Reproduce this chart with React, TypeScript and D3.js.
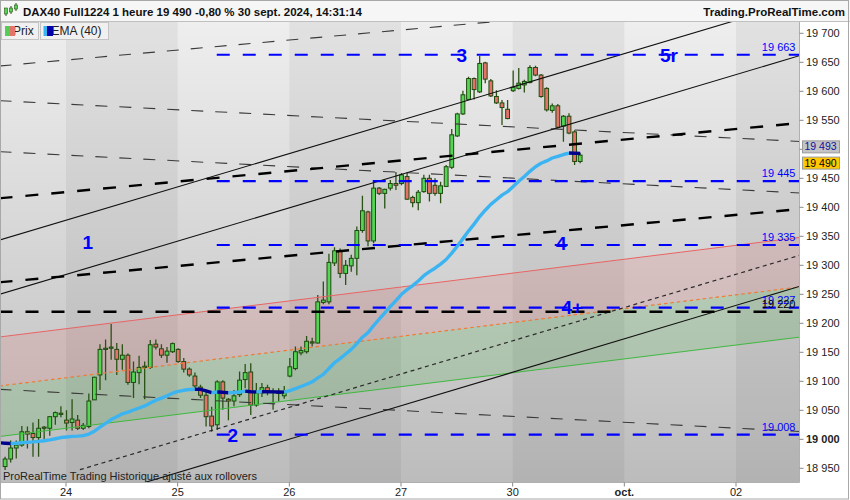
import { useEffect, useRef } from 'react';
import * as d3 from 'd3';

const W = 850;
const H = 500;
const FONT = '"Liberation Sans", Arial, sans-serif';

// ── Sessions on the time axis (20 hourly bars each) ─────────────────────────
const sessions = ['23', '24', '25', '26', '27', '30', 'oct.', '02'];
const BARS_PER_SESSION = 20;
const FIRST_BAR = 9; // 23 sept, bar #9

// ── Hourly candles, 23 sept → 30 sept 14:00 ────────────────────────────────
const opens = [
  18953, 18966, 18985, 18990, 19013, 19010, 19003, 19019, 19019, 19039, 19044,
  19033, 19029, 19033, 19019, 19022, 19068, 19111, 19155, 19157, 19155, 19138, 19145, 19098, 19115, 19124, 19124, 19164, 19156, 19145, 19151,
  19155, 19134, 19121, 19109, 19090, 19076, 19040, 19025, 19099, 19069, 19066, 19077, 19103, 19116, 19059, 19080, 19089, 19083, 19080, 19075,
  19109, 19122, 19149, 19151, 19168, 19166, 19236, 19237, 19304, 19325, 19286, 19299, 19312, 19360, 19392, 19342, 19433, 19424, 19433, 19441,
  19441, 19453, 19417, 19408, 19427, 19450, 19438, 19424, 19436, 19469, 19523, 19561, 19586, 19622, 19599, 19649, 19618, 19591, 19580, 19569,
  19601, 19605, 19611, 19615, 19641, 19628, 19605, 19567, 19575, 19540, 19557, 19530, 19479,
];
const highs = [
  18970, 18998, 18998, 19023, 19022, 19029, 19035, 19023, 19040, 19048, 19057,
  19050, 19069, 19042, 19028, 19079, 19108, 19164, 19172, 19199, 19166, 19164, 19148, 19134, 19144, 19134, 19171, 19172, 19164, 19159, 19167,
  19157, 19140, 19124, 19115, 19094, 19085, 19056, 19102, 19102, 19071, 19085, 19117, 19130, 19131, 19097, 19097, 19094, 19088, 19088, 19092,
  19140, 19160, 19160, 19178, 19175, 19249, 19272, 19320, 19331, 19329, 19309, 19318, 19367, 19420, 19394, 19444, 19435, 19432, 19447, 19461,
  19459, 19460, 19420, 19430, 19456, 19456, 19450, 19444, 19473, 19535, 19563, 19601, 19625, 19624, 19661, 19651, 19621, 19602, 19585, 19585,
  19636, 19640, 19620, 19645, 19644, 19630, 19607, 19579, 19578, 19559, 19562, 19533, 19494,
];
const lows = [
  18947, 18960, 18967, 18987, 18984, 18970, 18970, 19000, 19006, 19025, 19038,
  19015, 19015, 19016, 19016, 19019, 19068, 19085, 19102, 19137, 19111, 19120, 19094, 19071, 19095, 19069, 19121, 19155, 19140, 19132, 19149,
  19132, 19115, 19108, 19086, 19071, 19022, 19013, 19016, 19051, 19033, 19057, 19073, 19088, 19042, 19056, 19073, 19076, 19051, 19065, 19070,
  19107, 19119, 19145, 19148, 19160, 19165, 19233, 19233, 19299, 19278, 19266, 19289, 19283, 19356, 19333, 19338, 19421, 19398, 19429, 19430,
  19438, 19413, 19400, 19395, 19425, 19410, 19420, 19407, 19435, 19466, 19521, 19559, 19585, 19586, 19597, 19614, 19590, 19578, 19542, 19552,
  19599, 19603, 19598, 19614, 19626, 19589, 19565, 19563, 19536, 19513, 19526, 19473, 19476,
];
const closes = [
  18966, 18985, 18990, 19013, 19009, 19003, 19019, 19021, 19039, 19046, 19045,
  19028, 19035, 19019, 19024, 19066, 19107, 19155, 19157, 19159, 19138, 19145, 19098, 19116, 19124, 19126, 19163, 19159, 19145, 19152, 19165,
  19134, 19121, 19111, 19092, 19076, 19039, 19023, 19099, 19071, 19066, 19075, 19102, 19115, 19059, 19080, 19089, 19083, 19082, 19081, 19082,
  19125, 19151, 19153, 19169, 19167, 19237, 19240, 19305, 19325, 19286, 19300, 19312, 19360, 19394, 19342, 19433, 19424, 19431, 19441, 19438,
  19456, 19414, 19408, 19426, 19450, 19424, 19424, 19437, 19470, 19525, 19561, 19594, 19622, 19603, 19648, 19621, 19592, 19580, 19572, 19553,
  19607, 19614, 19617, 19641, 19628, 19591, 19568, 19575, 19538, 19557, 19528, 19479, 19490,
];

// ── EMA (40) as plotted, one value per bar from bar #8 ─────────────────────
const EMA_FIRST_BAR = 8;
const ema40 = [
  18994, 18993.3, 18992.8, 18993.2, 18994.2, 18995, 18995.5, 18996.5, 18997.5, 18999, 19001, 19003,
  19004, 19005, 19005.5, 19006.3, 19009, 19014, 19021, 19027.5, 19034, 19039, 19044, 19047, 19050.5, 19054, 19057.5, 19062.5, 19067.5, 19071, 19075, 19079.5,
  19082.5, 19084.5, 19085.8, 19086.3, 19086, 19083.5, 19080.5, 19081.5, 19081, 19080.2, 19080.6, 19081.5, 19083, 19082, 19081.7, 19082.2, 19082, 19081.8, 19081.5, 19081.3,
  19084, 19087.5, 19091, 19095, 19099, 19106, 19112, 19122, 19132, 19139, 19147, 19155, 19165, 19176, 19184, 19196, 19207, 19218, 19229, 19239,
  19250, 19258, 19265, 19273, 19282, 19289, 19295, 19302, 19310, 19321, 19333, 19346, 19359, 19371, 19384, 19395, 19405, 19413, 19421, 19427,
  19436, 19445, 19453, 19462, 19470, 19476, 19480, 19485, 19488, 19491, 19493.5, 19493.2, 19493,
];
const EMA_LAST = 19493;
const LAST_PRICE = 19490;

// ── Price axis ─────────────────────────────────────────────────────────────
const priceTicks = [18950, 19000, 19050, 19100, 19150, 19200, 19250, 19300, 19350, 19400, 19450, 19500, 19550, 19600, 19650, 19700];

// ── Drawn objects: [bar0, price0, bar1, price1] ─────────────────────────────
const solidLines = [
  [8, 19343.6, 151.5, 19755.7],
  [8, 19250, 151.5, 19662.1],
  [26, 18902.4, 151.5, 19264.3],
];
const thickDashed = [
  [8, 19415.5, 151.5, 19545.5],
  [8, 19270.7, 151.5, 19397.1],
  [8, 19220, 151.5, 19220],
];
const thinDashed = [
  [8, 19643.6, 151.5, 19767.4],
  [8, 19583.8, 151.5, 19513.4],
  [8, 19495.9, 151.5, 19424.7],
  [8, 19086.2, 151.5, 19013.3],
];
const dottedLines = [[22.4, 18947.6, 151.5, 19317.8]];
const regUpper = [8, 19176.4, 151.5, 19348.3];
const regMid = [8, 19091.9, 151.5, 19262.9];
const regLower = [8, 19004.8, 151.5, 19176.4];

// horizontal support / resistance levels
const levels = [19663, 19445, 19335, 19227, 19008];
const LEVEL_START_BAR = 47;
const blackLevel = 19220;

// wave annotations
const annoText = ['1', '2', '3', '4', '4+', '5r'];
const annoBar = [23.8, 49.8, 90.8, 108.6, 110.6, 127.9];
const annoPrice = [19340, 19007, 19663, 19339, 19228, 19663];

const fmtPrice = (v: number) => `${Math.floor(v / 1000)} ${String(Math.round(v) % 1000).padStart(3, '0')}`;

export default function App() {
  const svgRef = useRef<SVGSVGElement>(null);

  useEffect(() => {
    if (!svgRef.current) return;
    const svg = d3.select(svgRef.current);
    svg.selectAll('*').remove();

    const P = { left: 1, right: 799.5, top: 22, bottom: 482.5 };

    const x = d3.scaleLinear().domain([20, 140]).range([66.5, 736.5]);
    const y = d3.scaleLinear().domain([18950, 19700]).range([468.3, 33.3]);

    // ── defs ────────────────────────────────────────────────────────────────
    const defs = svg.append('defs');
    const bg = defs.append('linearGradient').attr('id', 'bg')
      .attr('x1', '0').attr('x2', '0').attr('y1', '0').attr('y2', '1');
    bg.append('stop').attr('offset', '0%').attr('stop-color', '#eeeeee');
    bg.append('stop').attr('offset', '100%').attr('stop-color', '#bcbcbc');
    defs.append('clipPath').attr('id', 'plot')
      .append('rect').attr('x', P.left).attr('y', P.top)
      .attr('width', P.right - P.left).attr('height', P.bottom - P.top);

    // page background
    svg.append('rect').attr('width', W).attr('height', H).attr('fill', '#ffffff');
    svg.append('rect').attr('width', W).attr('height', P.top).attr('fill', '#f6f6f6');

    const plot = svg.append('g').attr('clip-path', 'url(#plot)');
    plot.append('rect').attr('x', P.left).attr('y', P.top)
      .attr('width', P.right - P.left).attr('height', P.bottom - P.top).attr('fill', 'url(#bg)');

    // ── day bands ───────────────────────────────────────────────────────────
    sessions.forEach((_, i) => {
      if (i % 2 === 0) return;
      const x0 = x(i * BARS_PER_SESSION) - 0.5;
      const x1 = x((i + 1) * BARS_PER_SESSION) - 0.5;
      plot.append('rect').attr('x', x0).attr('y', P.top).attr('width', x1 - x0)
        .attr('height', P.bottom - P.top).attr('fill', '#000').attr('opacity', 0.05);
    });

    // ── regression channel fills ────────────────────────────────────────────
    const band = (a: number[], b: number[]) =>
      `M${x(a[0])},${y(a[1])}L${x(a[2])},${y(a[3])}L${x(b[2])},${y(b[3])}L${x(b[0])},${y(b[1])}Z`;
    plot.append('path').attr('d', band(regUpper, regMid)).attr('fill', 'rgb(235,80,80)').attr('opacity', 0.15);
    plot.append('path').attr('d', band(regMid, regLower)).attr('fill', 'rgb(40,170,40)').attr('opacity', 0.17);

    // ── candles ─────────────────────────────────────────────────────────────
    const candles = opens.map((o, i) => ({ bar: FIRST_BAR + i, o, h: highs[i], l: lows[i], c: closes[i] }));
    const cg = plot.append('g');
    cg.selectAll('line').data(candles).join('line')
      .attr('x1', d => x(d.bar)).attr('x2', d => x(d.bar))
      .attr('y1', d => y(d.h)).attr('y2', d => y(d.l))
      .attr('stroke', '#2a5214').attr('stroke-width', 1.3);
    cg.selectAll('rect').data(candles).join('rect')
      .attr('x', d => x(d.bar) - 1.9).attr('width', 3.8)
      .attr('y', d => y(Math.max(d.o, d.c)))
      .attr('height', d => Math.max(1.2, Math.abs(y(d.o) - y(d.c))))
      .attr('fill', d => (d.c >= d.o ? '#55d455' : '#e6736a'))
      .attr('stroke', '#1f4a10').attr('stroke-width', 1);

    // ── drawn lines ─────────────────────────────────────────────────────────
    const seg = (l: number[], stroke: string, w: number, dash?: string) =>
      plot.append('line')
        .attr('x1', x(l[0])).attr('y1', y(l[1])).attr('x2', x(l[2])).attr('y2', y(l[3]))
        .attr('stroke', stroke).attr('stroke-width', w)
        .attr('stroke-dasharray', dash ?? null);

    seg(regUpper, '#e86464', 1);
    seg(regMid, '#f07a36', 1.2, '3.5 3');
    seg(regLower, '#3fb83f', 1);
    thinDashed.forEach(l => seg(l, '#3a3a3a', 1.1, '12 12'));
    dottedLines.forEach(l => seg(l, '#2a2a2a', 1.2, '4 3.5'));
    solidLines.forEach(l => seg(l, '#111111', 1.1));
    thickDashed.forEach(l => seg(l, '#000000', 2.4, '13 13'));

    // ── blue levels ─────────────────────────────────────────────────────────
    levels.forEach(v => {
      plot.append('line')
        .attr('x1', x(LEVEL_START_BAR) - 0.5).attr('x2', P.right)
        .attr('y1', y(v)).attr('y2', y(v))
        .attr('stroke', '#0000ff').attr('stroke-width', 2.2).attr('stroke-dasharray', '13 13');
    });

    // ── EMA 40, coloured by direction ────────────────────────────────────────
    const emaPts = ema40.map((v, i) => ({ bar: EMA_FIRST_BAR + i, v }));
    const line = d3.line<{ bar: number; v: number }>().x(d => x(d.bar)).y(d => y(d.v));
    let run: typeof emaPts = [emaPts[0]];
    let runUp = emaPts[1].v >= emaPts[0].v;
    const flush = () => {
      plot.append('path').datum(run).attr('d', line).attr('fill', 'none')
        .attr('stroke', runUp ? '#3db4f2' : '#00008f').attr('stroke-width', 3.4)
        .attr('stroke-linejoin', 'round');
    };
    for (let i = 1; i < emaPts.length; i++) {
      const up = emaPts[i].v >= emaPts[i - 1].v;
      if (up !== runUp) {
        flush();
        run = [emaPts[i - 1]];
        runUp = up;
      }
      run.push(emaPts[i]);
    }
    flush();

    // ── annotations ─────────────────────────────────────────────────────────
    annoText.forEach((t, i) => {
      plot.append('text').attr('x', x(annoBar[i])).attr('y', y(annoPrice[i])).attr('dy', '0.36em')
        .attr('text-anchor', 'middle').attr('fill', '#0000ff')
        .attr('font-family', FONT).attr('font-size', 19).attr('font-weight', 'bold').text(t);
    });
    levels.forEach(v => {
      plot.append('text').attr('x', 795.5).attr('y', y(v) - 4).attr('text-anchor', 'end')
        .attr('fill', '#0000ff').attr('font-family', FONT).attr('font-size', 11).text(fmtPrice(v));
    });
    plot.append('text').attr('x', 795.5).attr('y', y(blackLevel) - 4).attr('text-anchor', 'end')
      .attr('fill', '#000').attr('font-family', FONT).attr('font-size', 11).text(fmtPrice(blackLevel));

    plot.append('text').attr('x', 3).attr('y', 480).attr('fill', '#222')
      .attr('font-family', FONT).attr('font-size', 11)
      .text('ProRealTime Trading  Historique ajusté aux rollovers');

    // ── frames ──────────────────────────────────────────────────────────────
    svg.append('line').attr('x1', P.right).attr('x2', P.right).attr('y1', P.top).attr('y2', P.bottom)
      .attr('stroke', '#b0b0b0');
    svg.append('line').attr('x1', 0).attr('x2', P.right).attr('y1', P.bottom).attr('y2', P.bottom)
      .attr('stroke', '#b0b0b0');
    svg.append('line').attr('x1', 0).attr('x2', W).attr('y1', 21.5).attr('y2', 21.5)
      .attr('stroke', '#c0c0c0');
    svg.append('rect').attr('x', 0.5).attr('y', 0.5).attr('width', W - 2).attr('height', H - 1.5)
      .attr('fill', 'none').attr('stroke', '#a8a8a8');

    // ── price axis ──────────────────────────────────────────────────────────
    const emaCy = y(EMA_LAST) - 6.5;
    const lastCy = y(LAST_PRICE) + 8;
    const ax = svg.append('g');
    priceTicks.forEach(v => {
      ax.append('line').attr('x1', P.right).attr('x2', P.right + 4).attr('y1', y(v)).attr('y2', y(v))
        .attr('stroke', '#888');
      // labels hidden behind the last-value boxes are not drawn
      if (y(v) > emaCy - 10 && y(v) < lastCy + 10) return;
      ax.append('text').attr('x', 806).attr('y', y(v) + 4)
        .attr('font-family', FONT).attr('font-size', 11).attr('fill', '#222')
        .attr('font-weight', v === 19000 ? 'bold' : 'normal').text(fmtPrice(v));
    });
    const box = (cy: number, fill: string, color: string, label: string) => {
      ax.append('rect').attr('x', 802.5).attr('y', cy - 6).attr('width', 37).attr('height', 12)
        .attr('fill', fill).attr('stroke', '#9a9a9a');
      ax.append('text').attr('x', 804.5).attr('y', cy + 3.6)
        .attr('font-family', FONT).attr('font-size', 10.5).attr('fill', color).text(label);
    };
    box(emaCy, '#c4c4c4', '#10109a', fmtPrice(EMA_LAST));
    box(lastCy, '#ffc800', '#000', fmtPrice(LAST_PRICE));

    // ── time axis ───────────────────────────────────────────────────────────
    sessions.forEach((s, i) => {
      if (i === 0) return;
      const xx = x(i * BARS_PER_SESSION) - 0.5;
      svg.append('line').attr('x1', xx).attr('x2', xx).attr('y1', P.bottom).attr('y2', P.bottom + 4)
        .attr('stroke', '#888');
      svg.append('text').attr('x', xx).attr('y', 496).attr('text-anchor', 'middle')
        .attr('font-family', FONT).attr('font-size', 11).attr('fill', '#222')
        .attr('font-weight', s === 'oct.' ? 'bold' : 'normal').text(s);
    });

    // ── title bar ───────────────────────────────────────────────────────────
    const ic = svg.append('g');
    [[6, 10, 16, 8, 14], [11, 6, 14, 8, 12], [16, 3, 11, 5, 9]].forEach(([cx, hi, lo, b0, b1]) => {
      ic.append('line').attr('x1', cx).attr('x2', cx).attr('y1', hi).attr('y2', lo).attr('stroke', '#2a5214');
      ic.append('rect').attr('x', cx - 1.5).attr('y', b0).attr('width', 3).attr('height', b1 - b0)
        .attr('fill', '#55d455').attr('stroke', '#2a5214').attr('stroke-width', 0.6);
    });
    svg.append('text').attr('x', 23).attr('y', 15.5)
      .attr('font-family', FONT).attr('font-size', 11.5).attr('font-weight', 'bold').attr('fill', '#111')
      .text('DAX40 Full1224 1 heure 19 490 -0,80 % 30 sept. 2024, 14:31:14');
    svg.append('text').attr('x', 845).attr('y', 15.5).attr('text-anchor', 'end')
      .attr('font-family', FONT).attr('font-size', 11.5).attr('font-weight', 'bold').attr('fill', '#111')
      .text('Trading.ProRealTime.com');

    // ── legend ──────────────────────────────────────────────────────────────
    const lg = svg.append('g');
    lg.append('rect').attr('x', 1.5).attr('y', 22.5).attr('width', 37).attr('height', 17)
      .attr('fill', '#f0f0f0').attr('stroke', '#c4c4c4');
    lg.append('text').attr('x', 13).attr('y', 35).attr('font-family', FONT).attr('font-size', 12)
      .attr('fill', '#222').text('Prix');
    lg.append('rect').attr('x', 5).attr('y', 26).attr('width', 5).attr('height', 10).attr('fill', '#55cc55');
    lg.append('rect').attr('x', 10).attr('y', 26).attr('width', 5).attr('height', 10).attr('fill', '#e6736a');
    lg.append('rect').attr('x', 40.5).attr('y', 22.5).attr('width', 68).attr('height', 17)
      .attr('fill', '#f0f0f0').attr('stroke', '#c4c4c4');
    lg.append('text').attr('x', 51.5).attr('y', 35).attr('font-family', FONT).attr('font-size', 12)
      .attr('fill', '#222').text('EMA (40)');
    lg.append('rect').attr('x', 43.5).attr('y', 26).attr('width', 3.5).attr('height', 10).attr('fill', '#3db4f2');
    lg.append('rect').attr('x', 47).attr('y', 26).attr('width', 6).attr('height', 10).attr('fill', '#0000aa');
  }, []);

  return (
    <svg
      ref={svgRef}
      width={W}
      height={H}
      style={{ position: 'absolute', left: 0, top: 0, display: 'block' }}
    />
  );
}
